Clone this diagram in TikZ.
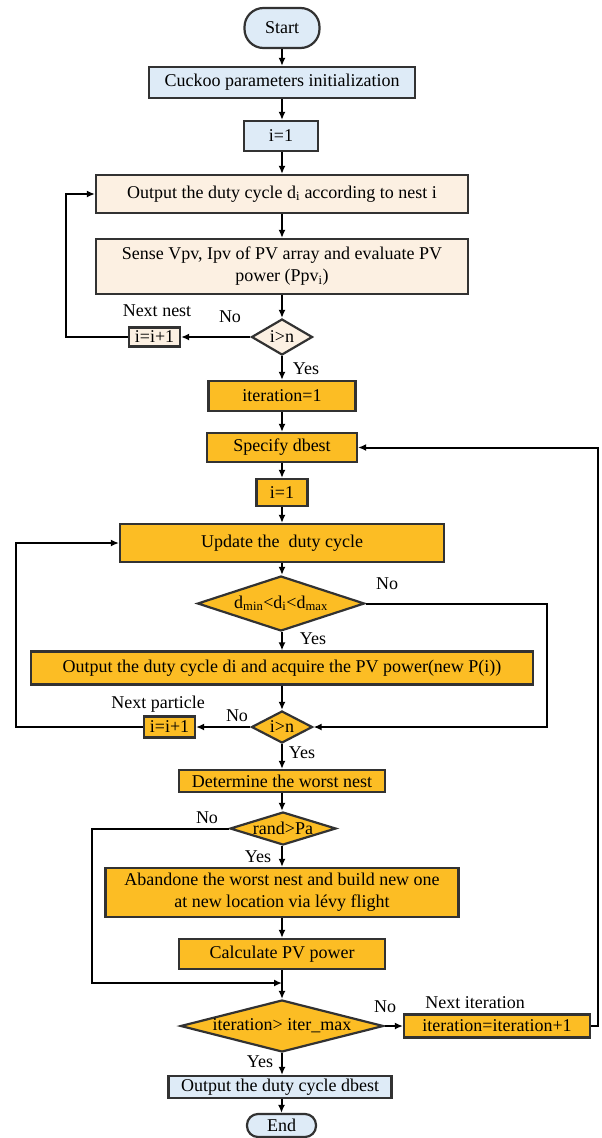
\documentclass[tikz,border=0pt]{standalone}
\usepackage{fontspec}
\setmainfont{Liberation Serif}
\usetikzlibrary{arrows.meta,shapes.geometric}

\definecolor{lblue}{RGB}{222,235,247}
\definecolor{peach}{RGB}{252,240,226}
\definecolor{gold}{RGB}{252,189,36}
\definecolor{edge}{RGB}{50,50,50}

\tikzset{
  box/.style={draw=edge,line width=2.2pt,inner sep=0pt,align=center},
  bluebox/.style={box,fill=lblue},
  peachbox/.style={box,fill=peach},
  goldbox/.style={box,fill=gold},
  term/.style={bluebox,rounded corners=#1},
  dec/.style={diamond,draw=edge,line width=2.2pt,inner sep=0pt,fill=#1},
  flow/.style={line width=2pt,-{Latex[length=8pt,width=7pt]}},
  lab/.style={inner sep=0pt},
}

\begin{document}
\begin{tikzpicture}[x=1pt,y=-1pt,every node/.style={font=\fontsize{18}{22}\selectfont}]
\useasboundingbox (0,0) rectangle (602,1138);

\node[term=19pt,minimum width=75,minimum height=40] (start) at (282,28) {Start};
\node[bluebox,minimum width=266,minimum height=31] (init) at (282,82.5) {Cuckoo parameters initialization};
\node[bluebox,minimum width=74,minimum height=30] (i1) at (281,136) {i=1};
\node[peachbox,minimum width=372,minimum height=38] (outd) at (282,194) {Output the duty cycle d\textsubscript{i} according to nest i};
\node[peachbox,minimum width=372,minimum height=55] (sense) at (282,266.5) {Sense Vpv, Ipv of PV array and evaluate PV\\power (Ppv\textsubscript{i})};
\node[dec=peach,minimum width=61,minimum height=36] (d1) at (282,337) {};
\node[lab] (d1txt) at (d1) {i>n};
\node[peachbox,minimum width=51,minimum height=19] (inc1) at (154.5,337) {i=i+1};

\node[goldbox,minimum width=147,minimum height=30] (iter1) at (282,396) {iteration=1};
\node[goldbox,minimum width=150,minimum height=29] (spec) at (282,447.5) {Specify dbest};
\node[goldbox,minimum width=51,minimum height=27] (i2) at (282,492.5) {i=1};
\node[goldbox,minimum width=324,minimum height=38] (upd) at (282,543) {Update the \ duty cycle};
\node[dec=gold,minimum width=167,minimum height=55] (d2) at (281,603.5) {};
\node[lab] (d2txt) at (d2) {d\textsubscript{min}<d\textsubscript{i}<d\textsubscript{max}};
\node[goldbox,minimum width=502,minimum height=33] (outp) at (282,668) {Output the duty cycle di and acquire the PV power(new P(i))};
\node[dec=gold,minimum width=61,minimum height=32] (d3) at (282,727) {};
\node[lab] (d3txt) at (d3) {i>n};
\node[goldbox,minimum width=51,minimum height=21] (inc2) at (169.5,727) {i=i+1};
\node[goldbox,minimum width=206,minimum height=22] (worst) at (282,781) {Determine the worst nest};
\node[dec=gold,minimum width=106,minimum height=33] (d4) at (283,828.5) {};
\node[lab] (d4txt) at (d4) {rand>Pa};
\node[goldbox,minimum width=353,minimum height=49] (aband) at (282,892.5) {Abandone the worst nest and build new one\\at new location via lévy flight};
\node[goldbox,minimum width=206,minimum height=30] (calc) at (282,954) {Calculate PV power};
\node[dec=gold,minimum width=203,minimum height=52] (d5) at (282,1026) {};
\node[lab] (d5txt) at (d5) {iteration> iter\_max};
\node[goldbox,minimum width=186,minimum height=23] (nxt) at (497,1026) {iteration=iteration+1};
\node[bluebox,minimum width=223,minimum height=22] (outb) at (280,1087) {Output the duty cycle dbest};
\node[term=11pt,minimum width=69,minimum height=23] (end) at (281.5,1125.5) {End};
\coordinate (join) at (282,983);

\node[lab] (nnest) at (157,311) {Next nest};
\node[lab] (no1) at (230,317) {No};
\node[lab] (yes1) at (306,369) {Yes};
\node[lab] (no2) at (387,584) {No};
\node[lab] (yes2) at (313,639) {Yes};
\node[lab] (npart) at (158,704) {Next particle};
\node[lab] (no3) at (237,716) {No};
\node[lab] (yes3) at (302,753) {Yes};
\node[lab] (no4) at (207,818) {No};
\node[lab] (yes4) at (258,857) {Yes};
\node[lab] (no5) at (385,1007) {No};
\node[lab] (niter) at (475,1003) {Next iteration};
\node[lab] (yes5) at (260,1062) {Yes};

\draw[flow] (start) -- (init);
\draw[flow] (init) -- (i1.north -| init);
\draw[flow] (i1.south -| outd) -- (outd);
\draw[flow] (outd) -- (sense);
\draw[flow] (sense) -- (d1);
\draw[flow] (d1.west) -- (inc1.east);
\draw[flow] (inc1.west) -- ++(-62,0) |- (outd.west);
\draw[flow] (d1) -- (iter1);
\draw[flow] (iter1) -- (spec);
\draw[flow] (spec) -- (i2);
\draw[flow] (i2) -- (upd);
\draw[flow] (upd) -- (d2.north -| upd);
\draw[flow] (d2.south -| outp) -- (outp);
\draw[flow] (outp) -- (d3);
\draw[flow] (d2.east) -- ++(181,0) |- (d3.east);
\draw[flow] (d3.west) -- (inc2.east);
\draw[flow] (inc2.west) -- ++(-127,0) |- (upd.west);
\draw[flow] (d3) -- (worst);
\draw[flow] (worst) -- (d4.north -| worst);
\draw[flow] (d4.south -| aband) -- (aband);
\draw[flow] (aband) -- (calc);
\draw[flow] (calc) -- (d5);
\draw[flow] (d4.west) -- ++(-137,0) |- (join);
\draw[flow] (d5.east) -- (nxt.west);
\draw[flow] (nxt.east) -- ++(7,0) |- (spec.east);
\draw[flow] (d5) -- (outb.north -| d5);
\draw[flow] (outb.south -| end) -- (end);
\end{tikzpicture}
\end{document}
